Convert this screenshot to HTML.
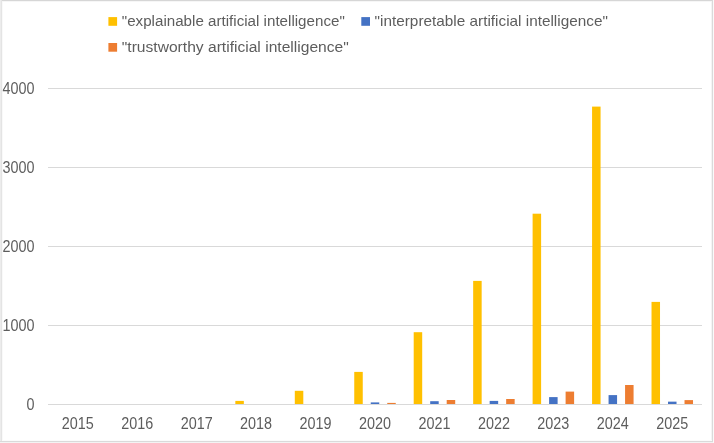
<!DOCTYPE html>
<html><head><meta charset="utf-8"><style>
html,body{margin:0;padding:0;background:#fff;width:714px;height:443px;overflow:hidden;font-family:"Liberation Sans", sans-serif;}
</style></head><body><svg width="714" height="443" viewBox="0 0 714 443" style="display:block"><rect x="0.00" y="442.00" width="714.00" height="1.00" fill="#f3f3f3"/><rect x="713.00" y="0.00" width="1.00" height="443.00" fill="#fafafa"/><rect x="2.00" y="1.00" width="1.00" height="440.00" fill="#f9f9f9"/><rect x="0.00" y="1.00" width="712.00" height="1.00" fill="#f6f6f6"/><rect x="711.00" y="0.00" width="1.00" height="441.00" fill="#f4f4f4"/><rect x="0.00" y="440.00" width="712.00" height="1.00" fill="#fbfbfb"/><rect x="0.00" y="0.00" width="713.00" height="1.00" fill="#d6d6d6"/><rect x="0.00" y="0.00" width="1.00" height="442.00" fill="#ececec"/><rect x="1.00" y="0.00" width="1.00" height="441.00" fill="#e4e4e4"/><rect x="712.00" y="0.00" width="1.00" height="442.00" fill="#dadada"/><rect x="0.00" y="441.00" width="713.00" height="1.00" fill="#dadada"/><rect x="48.00" y="88.00" width="654.00" height="1.00" fill="#d9d9d9"/><rect x="48.00" y="167.00" width="654.00" height="1.00" fill="#d9d9d9"/><rect x="48.00" y="246.00" width="654.00" height="1.00" fill="#d9d9d9"/><rect x="48.00" y="325.00" width="654.00" height="1.00" fill="#d9d9d9"/><rect x="235.34" y="400.90" width="8.50" height="3.60" fill="#ffc000"/><rect x="294.80" y="390.80" width="8.50" height="13.70" fill="#ffc000"/><rect x="354.25" y="371.90" width="8.50" height="32.60" fill="#ffc000"/><rect x="370.75" y="402.40" width="8.50" height="2.10" fill="#4472c4"/><rect x="387.25" y="402.90" width="8.50" height="1.60" fill="#ed7d31"/><rect x="413.70" y="332.20" width="8.50" height="72.30" fill="#ffc000"/><rect x="430.20" y="401.20" width="8.50" height="3.30" fill="#4472c4"/><rect x="446.70" y="400.00" width="8.50" height="4.50" fill="#ed7d31"/><rect x="473.16" y="280.90" width="8.50" height="123.60" fill="#ffc000"/><rect x="489.66" y="400.90" width="8.50" height="3.60" fill="#4472c4"/><rect x="506.16" y="399.00" width="8.50" height="5.50" fill="#ed7d31"/><rect x="532.61" y="213.70" width="8.50" height="190.80" fill="#ffc000"/><rect x="549.11" y="397.10" width="8.50" height="7.40" fill="#4472c4"/><rect x="565.61" y="391.60" width="8.50" height="12.90" fill="#ed7d31"/><rect x="592.07" y="106.60" width="8.50" height="297.90" fill="#ffc000"/><rect x="608.57" y="395.10" width="8.50" height="9.40" fill="#4472c4"/><rect x="625.07" y="385.00" width="8.50" height="19.50" fill="#ed7d31"/><rect x="651.52" y="301.90" width="8.50" height="102.60" fill="#ffc000"/><rect x="668.02" y="401.65" width="8.50" height="2.85" fill="#4472c4"/><rect x="684.52" y="400.10" width="8.50" height="4.40" fill="#ed7d31"/><rect x="48.00" y="404.00" width="654.00" height="1.00" fill="#d9d9d9"/><rect x="108.40" y="17.10" width="8.70" height="8.70" fill="#ffc000"/><rect x="361.30" y="17.10" width="8.70" height="8.70" fill="#4472c4"/><rect x="108.40" y="43.00" width="8.70" height="8.70" fill="#ed7d31"/><g font-family='"Liberation Sans", sans-serif' fill="#5d5d5d" opacity="0.999"><text transform="translate(121.80,26.00) scale(0.985,1)" font-size="15.4" text-anchor="start">&quot;explainable artificial intelligence&quot;</text><text transform="translate(374.60,26.00) scale(0.996,1)" font-size="15.4" text-anchor="start">&quot;interpretable artificial intelligence&quot;</text><text transform="translate(121.80,51.50) scale(1.013,1)" font-size="15.4" text-anchor="start">&quot;trustworthy artificial intelligence&quot;</text><text transform="translate(34.50,94.00) scale(0.922,1)" font-size="15.6" text-anchor="end">4000</text><text transform="translate(34.50,173.00) scale(0.922,1)" font-size="15.6" text-anchor="end">3000</text><text transform="translate(34.50,252.00) scale(0.922,1)" font-size="15.6" text-anchor="end">2000</text><text transform="translate(34.50,331.00) scale(0.922,1)" font-size="15.6" text-anchor="end">1000</text><text transform="translate(34.50,410.00) scale(0.922,1)" font-size="15.6" text-anchor="end">0</text><text transform="translate(77.73,428.60) scale(0.922,1)" font-size="15.6" text-anchor="middle">2015</text><text transform="translate(137.18,428.60) scale(0.922,1)" font-size="15.6" text-anchor="middle">2016</text><text transform="translate(196.64,428.60) scale(0.922,1)" font-size="15.6" text-anchor="middle">2017</text><text transform="translate(256.09,428.60) scale(0.922,1)" font-size="15.6" text-anchor="middle">2018</text><text transform="translate(315.55,428.60) scale(0.922,1)" font-size="15.6" text-anchor="middle">2019</text><text transform="translate(375.00,428.60) scale(0.922,1)" font-size="15.6" text-anchor="middle">2020</text><text transform="translate(434.45,428.60) scale(0.922,1)" font-size="15.6" text-anchor="middle">2021</text><text transform="translate(493.91,428.60) scale(0.922,1)" font-size="15.6" text-anchor="middle">2022</text><text transform="translate(553.36,428.60) scale(0.922,1)" font-size="15.6" text-anchor="middle">2023</text><text transform="translate(612.82,428.60) scale(0.922,1)" font-size="15.6" text-anchor="middle">2024</text><text transform="translate(672.27,428.60) scale(0.922,1)" font-size="15.6" text-anchor="middle">2025</text></g></svg></body></html>
